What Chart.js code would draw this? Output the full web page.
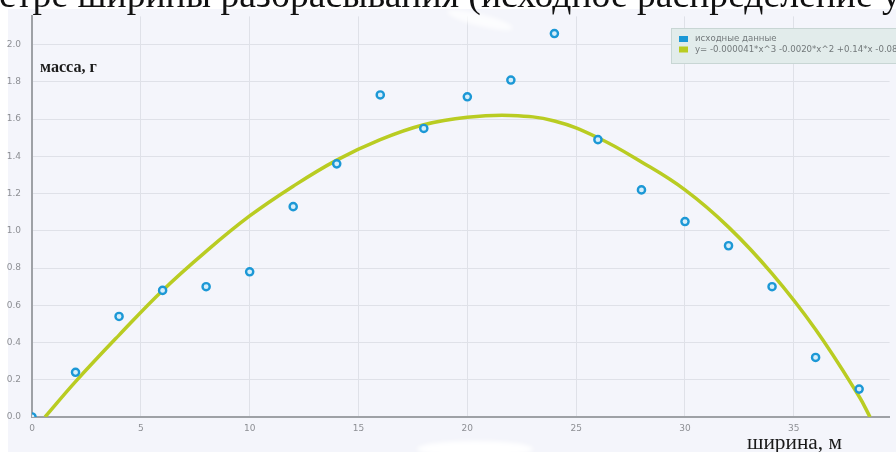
<!DOCTYPE html>
<html>
<head>
<meta charset="utf-8">
<script src="https://cdn.jsdelivr.net/npm/chart.js@4.4.1/dist/chart.umd.min.js"></script>
<style>
  html, body { margin: 0; padding: 0; background: #ffffff; }
  #wrap { position: relative; width: 896px; height: 452px; overflow: hidden; }
  canvas { display: block; }
</style>
</head>
<body>
<div id="wrap"><canvas id="chart" width="896" height="452"></canvas></div>
<script>
// Measured distribution: width position (m) and collected mass (g)
const widthPositions = [0, 2, 4, 6, 8, 10, 12, 14, 16, 18, 20, 22, 24, 26, 28, 30, 32, 34, 36, 38];
const massValues     = [0, 0.24, 0.54, 0.68, 0.70, 0.78, 1.13, 1.36, 1.73, 1.55, 1.72, 1.81, 2.06, 1.49, 1.22, 1.05, 0.92, 0.70, 0.32, 0.15];

// Cubic trend line, sampled along the width
const trendX = [0.6, 2, 4, 6, 8, 10, 12, 14, 16, 18, 20, 22, 24, 26, 28, 30, 32, 34, 36, 38, 38.5];
const trendY = [0.0, 0.19, 0.44, 0.68, 0.89, 1.08, 1.24, 1.38, 1.49, 1.57, 1.61, 1.62, 1.59, 1.50, 1.37, 1.22, 1.02, 0.77, 0.47, 0.11, 0.0];

const seriesLabels = ['исходные данные', 'y= -0.000041*x^3 -0.0020*x^2 +0.14*x -0.08'];
const xTickStep = 5;
const yTickStep = 0.2;

const titleText = 'стре ширины разбрасывания (исходное распределение у';
const yAxisTitle = 'масса, г';
const xAxisTitle = 'ширина, м';

const pointColor = '#1c98d6';
const trendColor = '#b9cc22';

const toXY = (xs, ys) => xs.map((x, i) => ({ x: x, y: ys[i] }));

// Font size that makes a serif string span a given width
function fitFont(ctx, text, width, weight) {
  ctx.font = weight + ' 100px "Liberation Serif", "Times New Roman", serif';
  const w = ctx.measureText(text).width;
  return 100 * width / w;
}

const backdrop = {
  id: 'backdrop',
  beforeDraw(chart) {
    const ctx = chart.ctx;
    ctx.save();
    ctx.fillStyle = '#ffffff';
    ctx.fillRect(0, 0, chart.width, chart.height);
    ctx.fillStyle = '#f4f5fb';
    ctx.fillRect(8, 9, chart.width - 8, chart.height - 9);
    ctx.restore();
  },
  afterDraw(chart) {
    const ctx = chart.ctx;
    ctx.save();
    // worn patches on the sheet
    ctx.filter = 'blur(2px)';
    ctx.fillStyle = 'rgba(255,255,255,0.95)';
    ctx.beginPath();
    ctx.ellipse(475, 449, 58, 8, 0, 0, Math.PI * 2);
    ctx.fill();
    ctx.fillStyle = 'rgba(255,255,255,0.75)';
    ctx.beginPath();
    ctx.ellipse(480, 20, 34, 6, 0.25, 0, Math.PI * 2);
    ctx.fill();
    ctx.filter = 'none';

    // heading line above the plot
    ctx.fillStyle = '#111111';
    ctx.textBaseline = 'alphabetic';
    ctx.textAlign = 'left';
    let fs = fitFont(ctx, titleText, 902, 'normal');
    ctx.font = 'normal ' + fs + 'px "Liberation Serif", "Times New Roman", serif';
    ctx.fillText(titleText, -1, 6.5);

    // axis captions
    fs = fitFont(ctx, yAxisTitle, 57, 'bold');
    ctx.font = 'bold ' + fs + 'px "Liberation Serif", "Times New Roman", serif';
    ctx.fillStyle = '#1a1a1a';
    ctx.fillText(yAxisTitle, 40, 71.5);

    fs = fitFont(ctx, xAxisTitle, 95, 'normal');
    ctx.font = 'normal ' + fs + 'px "Liberation Serif", "Times New Roman", serif';
    ctx.fillText(xAxisTitle, 747, 449);

    // legend box
    const lx = 671, ly = 28;
    ctx.fillStyle = '#e2eceb';
    ctx.fillRect(lx, ly, 240, 35);
    ctx.strokeStyle = '#c8d6d4';
    ctx.lineWidth = 1;
    ctx.strokeRect(lx + 0.5, ly + 0.5, 240, 35);
    const ds = chart.data.datasets;
    ctx.font = '8.6px "DejaVu Sans", sans-serif';
    ctx.textBaseline = 'middle';
    ds.forEach((d, i) => {
      const y = ly + 11 + i * 10.5;
      ctx.fillStyle = d.legendColor;
      ctx.fillRect(lx + 8, y - 3, 9, 6);
      ctx.fillStyle = '#72787a';
      ctx.fillText(d.label, lx + 24, y);
    });
    ctx.restore();
  }
};

new Chart(document.getElementById('chart'), {
  type: 'scatter',
  data: {
    datasets: [
      {
        label: seriesLabels[0],
        data: toXY(widthPositions, massValues),
        legendColor: pointColor,
        pointRadius: 3.6,
        pointBorderWidth: 2.4,
        pointBorderColor: pointColor,
        pointBackgroundColor: '#d6eefa',
        showLine: false,
        order: 0
      },
      {
        label: seriesLabels[1],
        type: 'line',
        data: toXY(trendX, trendY),
        legendColor: trendColor,
        borderColor: trendColor,
        borderWidth: 3.5,
        pointRadius: 0,
        tension: 0.4,
        fill: false,
        order: 1
      }
    ]
  },
  options: {
    responsive: false,
    animation: false,
    devicePixelRatio: 1,
    layout: { padding: { top: 12, left: 0, right: 0, bottom: 0 } },
    plugins: {
      legend: { display: false },
      tooltip: { enabled: false }
    },
    scales: {
      x: {
        type: 'linear',
        min: 0,
        max: 39.4,
        afterBuildTicks(scale) {
          scale.ticks = scale.ticks.filter(t => Math.abs(t.value / xTickStep - Math.round(t.value / xTickStep)) < 1e-6);
        },
        afterFit(scale) { scale.height = 35; },
        ticks: {
          stepSize: xTickStep,
          color: '#8d8f94',
          font: { family: 'DejaVu Sans', size: 9 },
          padding: 6,
          maxRotation: 0
        },
        grid: { color: '#dfe1e8', lineWidth: 1, drawTicks: false },
        border: { color: '#9ea1a6', width: 2 }
      },
      y: {
        type: 'linear',
        min: 0,
        max: 2.152,
        afterBuildTicks(scale) {
          scale.ticks = scale.ticks.filter(t => Math.abs(t.value / yTickStep - Math.round(t.value / yTickStep)) < 1e-6);
        },
        afterFit(scale) { scale.width = 32; },
        ticks: {
          stepSize: yTickStep,
          color: '#8d8f94',
          font: { family: 'DejaVu Sans', size: 9 },
          padding: 11,
          callback: v => v.toFixed(1)
        },
        grid: { color: '#dfe1e8', lineWidth: 1, drawTicks: false },
        border: { color: '#9ea1a6', width: 2 }
      }
    }
  },
  plugins: [backdrop]
});
</script>
</body>
</html>
